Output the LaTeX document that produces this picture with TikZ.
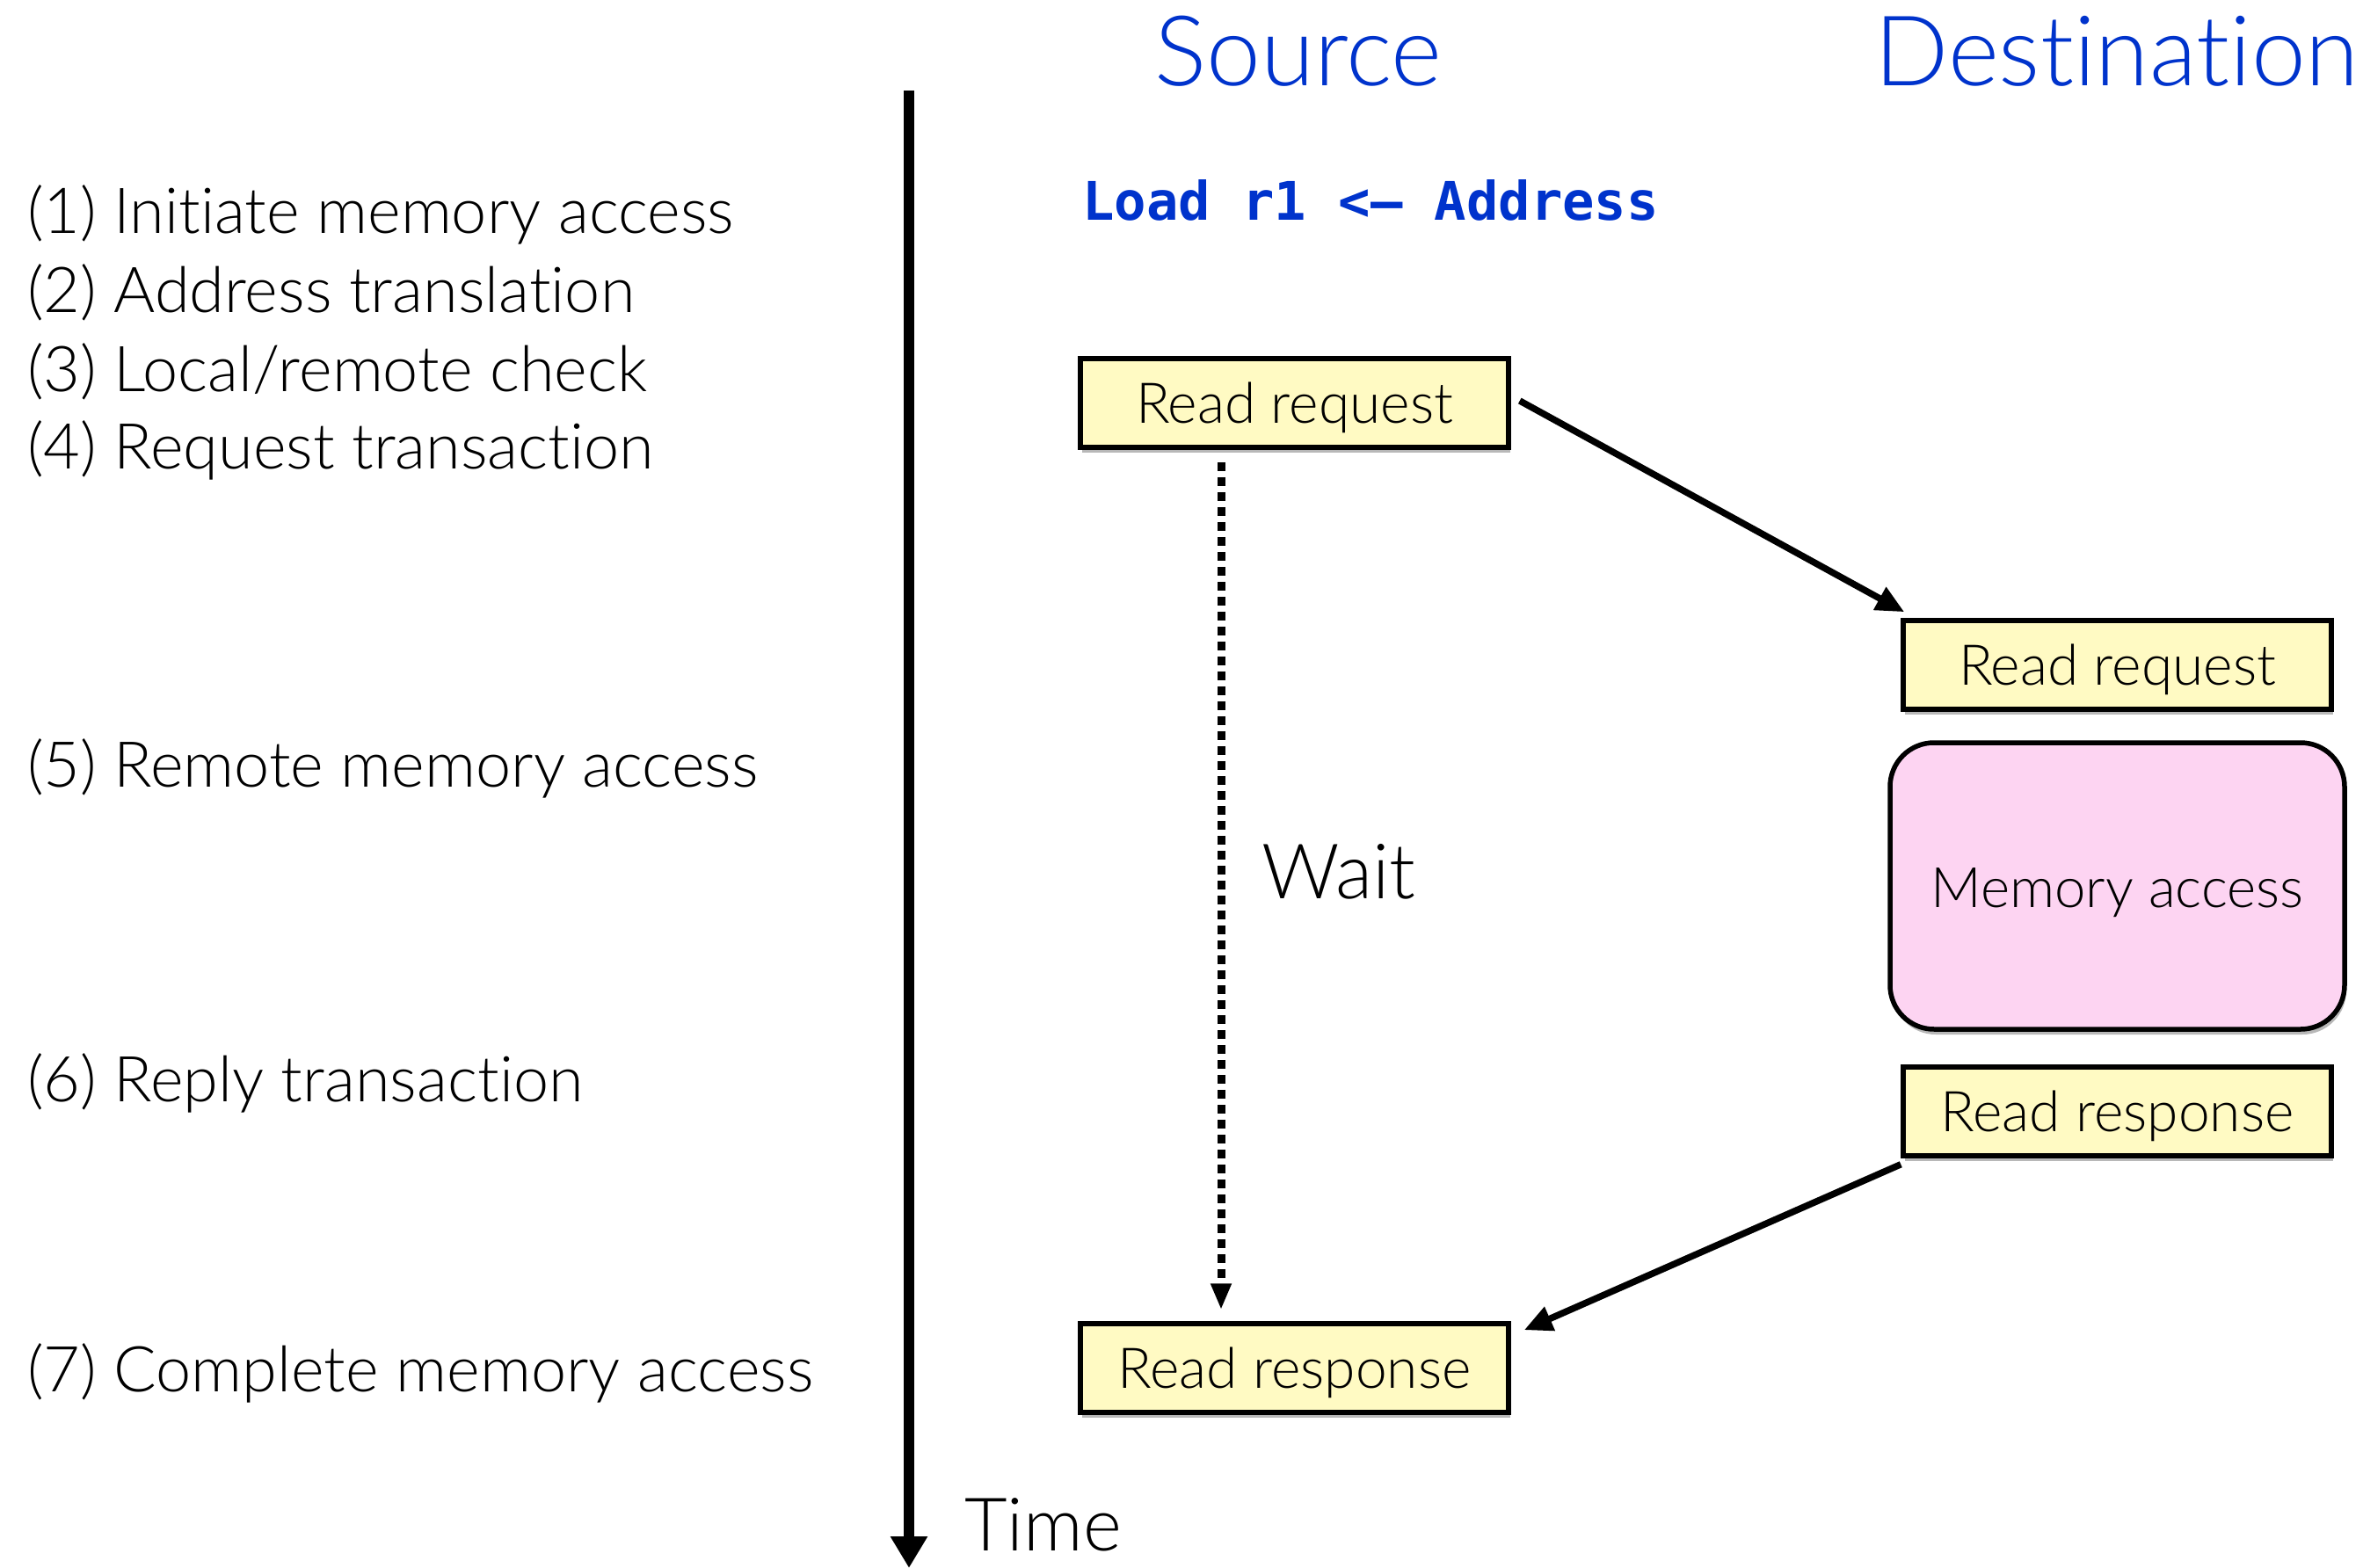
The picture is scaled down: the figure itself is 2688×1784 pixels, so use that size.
\documentclass[tikz,border=0pt]{standalone}
\usepackage{fontspec}
\setmainfont{Lato}[UprightFont=* Light, RawFeature={-liga}]
\newfontfamily\codefont{DejaVu Sans Mono}
\usetikzlibrary{arrows.meta,shadows}
\definecolor{titleblue}{RGB}{0,51,204}
\definecolor{boxyellow}{RGB}{255,250,195}
\definecolor{boxpink}{RGB}{253,212,242}
\newcommand\lowtext[2]{\raisebox{-#1}[\height][\depth]{#2}}
\tikzset{
  msgbox/.style={draw=black, line width=5.5pt, fill=boxyellow, minimum width=487pt, minimum height=101pt, inner sep=0pt,
    font=\fontsize{64}{70}\selectfont, drop shadow={shadow xshift=2pt, shadow yshift=-6pt, fill=black!35, opacity=0.8}},
  membox/.style={draw=black, line width=5.5pt, fill=boxpink, rounded corners=50pt, minimum width=517pt, minimum height=326pt, inner sep=0pt,
    font=\fontsize{63.5}{70}\selectfont, drop shadow={shadow xshift=2pt, shadow yshift=-6pt, fill=black!35, opacity=0.8}},
  steplabel/.style={anchor=base west, inner sep=0pt, font=\fontsize{72}{78}\selectfont},
  heading/.style={anchor=base, inner sep=0pt, text=titleblue, font=\fontsize{111}{116}\selectfont},
  msgarrow/.style={line width=7.5pt, -{Triangle[length=32pt,width=28pt]}},
  waitarrow/.style={line width=9pt, dash pattern=on 10pt off 7pt, -{Triangle[length=30pt,width=22pt]}},
  timearrow/.style={line width=12pt, -{Triangle[length=36pt,width=40pt]}},
}
\begin{document}
\begin{tikzpicture}[x=1pt,y=-1pt]
\path[use as bounding box] (0,0) rectangle (2688,1784);

% headings
\node[heading] (src) at (1477,98) {Source};
\node[heading] (dst) at (2408,98) {Destination};

% instruction
\node[anchor=base west, inner sep=0pt, text=titleblue, font=\codefont\bfseries\fontsize{60.5}{66}\selectfont] (load) at (1231,251) {Load r1 <– Address};

% left step labels
\node[steplabel] (s1) at (31,266) {(1) Initiate memory access};
\node[steplabel] (s2) at (31,356) {(2) Address translation};
\node[steplabel] (s3) at (31,445) {(3) Local/remote check};
\node[steplabel] (s4) at (31,533) {(4) Request transaction};
\node[steplabel] (s5) at (31,895) {(5) Remote memory access};
\node[steplabel] (s6) at (31,1253) {(6) Reply transaction};
\node[steplabel] (s7) at (31,1583) {(7) Complete memory access};

% time axis
\coordinate (t0) at (1034,103);
\coordinate (t1) at (1034,1784);
\draw[timearrow] (t0) -- (t1);
\node[anchor=base west, inner sep=0pt, font=\fontsize{84}{90}\selectfont] (time) at (1097,1764) {Time};

% boxes
\node[msgbox] (srcreq) at (1472.5,458.5) {\lowtext{5pt}{Read request}};
\node[msgbox] (dstreq) at (2408.5,756.5) {\lowtext{5pt}{Read request}};
\node[membox] (mem) at (2408.5,1008) {\lowtext{8pt}{Memory access}};
\node[msgbox] (dstresp) at (2408.5,1264.5) {\lowtext{5pt}{Read response}};
\node[msgbox] (srcresp) at (1472.5,1556.5) {\lowtext{5pt}{Read response}};

% wait
\node[anchor=base west, inner sep=0pt, font=\fontsize{87}{92}\selectfont] (wait) at (1435,1022) {Wait};
\draw[waitarrow] ([xshift=-83.5pt,yshift=-14pt]srcreq.south) -- ([xshift=-83.5pt,yshift=13pt]srcresp.north);

% message arrows
\draw[msgarrow] ([xshift=10pt,yshift=2.5pt]srcreq.east) -- ([xshift=4pt,yshift=7pt]dstreq.north west);
\draw[msgarrow] ([yshift=-7pt]dstresp.south west) -- ([xshift=15pt,yshift=-10pt]srcresp.north east);
\end{tikzpicture}
\end{document}
